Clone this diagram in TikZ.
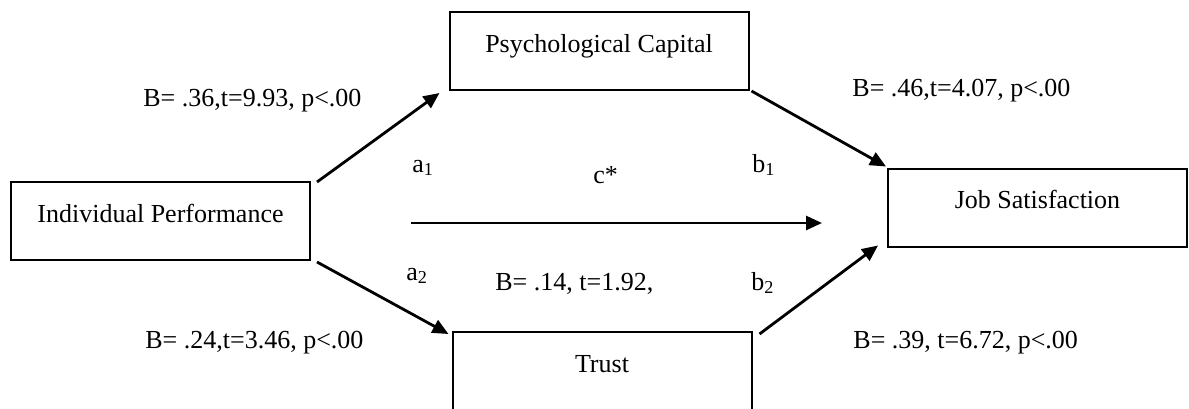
\documentclass[tikz,border=0pt]{standalone}
\usepackage{fontspec}
\setmainfont{Liberation Serif}
\usetikzlibrary{arrows.meta,positioning}

\begin{document}
\begin{tikzpicture}[x=0.5pt,y=-0.5pt,
  var/.style={draw,line width=1pt,minimum width=149.5pt,inner sep=0pt,
    text height=20pt,text depth=19pt,font=\fontsize{13}{15}\selectfont},
  path/.style={line width=1.4pt,-{Triangle[length=8pt,width=7pt]}},
  lab/.style={anchor=base west,inner sep=0pt,font=\fontsize{13}{15}\selectfont}
]
  \useasboundingbox (0,0) rectangle (1189,408);
  \node[var] (ip) at (160.5,221) {Individual Performance};
  \node[var] (pc) at (599,51) {Psychological Capital};
  \node[var] (js) at (1037.5,207.5) {Job Satisfaction};
  \node[var] (tr) at (602,371) {Trust};
  \coordinate (cs) at (411,223);
  \coordinate (ce) at (822,223);
  \draw[path] ([shift={(6,1)}]ip.north east) -- ([shift={(-9,2)}]pc.south west);
  \draw[path] ([shift={(2,0)}]pc.south east) -- ([shift={(-1,-1)}]js.north west);
  \draw[path] ([shift={(6,1)}]ip.south east) -- ([shift={(-3,3)}]tr.north west);
  \draw[path] ([shift={(7,3)}]tr.north east) -- ([shift={(-9,-2)}]js.south west);
  \draw[path] (cs) -- (ce);
  \node[lab] (lipc) at (143,106) {B= .36,t=9.93, p<.00};
  \node[lab] (lpcjs) at (852,96) {B= .46,t=4.07, p<.00};
  \node[lab] (liptr) at (145,348) {B= .24,t=3.46, p<.00};
  \node[lab] (ltrjs) at (853,348) {B= .39, t=6.72, p<.00};
  \node[lab] (la1) at (412,172) {a\textsubscript{1}};
  \node[lab] (lc) at (593,183) {c*};
  \node[lab] (lb1) at (752,172) {b\textsubscript{1}};
  \node[lab] (la2) at (406,280) {a\textsubscript{2}};
  \node[lab] (lcs) at (495,290) {B= .14, t=1.92,};
  \node[lab] (lb2) at (751,290) {b\textsubscript{2}};
\end{tikzpicture}
\end{document}
